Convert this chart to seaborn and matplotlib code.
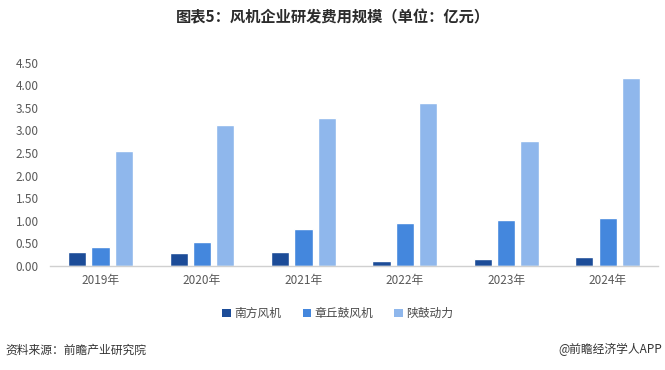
import matplotlib
matplotlib.use("Agg")
import matplotlib.pyplot as plt
import seaborn as sns
import pandas as pd
from matplotlib.patches import Patch

years = ["2019年", "2020年", "2021年", "2022年", "2023年", "2024年"]
series_names = ["南方风机", "章丘鼓风机", "陕鼓动力"]
nanfang = [0.31, 0.29, 0.31, 0.11, 0.15, 0.20]
zhangqiu = [0.42, 0.53, 0.82, 0.95, 1.02, 1.06]
shangu = [2.54, 3.12, 3.27, 3.61, 2.77, 4.16]
yticks = [0.0, 0.5, 1.0, 1.5, 2.0, 2.5, 3.0, 3.5, 4.0, 4.5]
colors = ["#1C4C98", "#4487DD", "#8FB7EC"]

rows = []
for name, vals in zip(series_names, [nanfang, zhangqiu, shangu]):
    for y, v in zip(years, vals):
        rows.append({"year": y, "company": name, "value": v})
df = pd.DataFrame(rows)

sns.set_theme(style="white")
plt.rcParams['font.family'] = ['Noto Sans CJK SC', 'DejaVu Sans']

fig = plt.figure(figsize=(6.65, 3.70), dpi=100)
ax = fig.add_axes([0.075, 0.281, 0.915, 0.550])

sns.barplot(data=df, x="year", y="value", hue="company", order=years,
            hue_order=series_names, palette=colors, width=0.69, gap=0.22,
            saturation=1, ax=ax, legend=False)

ax.set_ylim(0, 4.5)
ax.set_xlim(-0.5, 5.5)
ax.set_yticks(yticks)
ax.set_yticklabels([f"{t:.2f}" for t in yticks])
ax.set_xlabel("")
ax.set_ylabel("")
for s in ["top", "right", "left"]:
    ax.spines[s].set_visible(False)
ax.spines["bottom"].set_color("#D0D0D0")
ax.spines["bottom"].set_linewidth(1.0)
ax.tick_params(axis="y", length=0, labelsize=8.5, labelcolor="#595959", pad=8)
ax.tick_params(axis="x", length=0, labelsize=8.5, labelcolor="#595959", pad=6)

handles = [Patch(facecolor=c, edgecolor="none") for c in colors]
fig.legend(handles, series_names, loc="center", bbox_to_anchor=(0.508, 0.153),
           ncol=3, frameon=False, fontsize=8.5, handlelength=0.7,
           handleheight=0.7, handletextpad=0.3, columnspacing=1.8,
           labelcolor="#4a4a4a")

fig.text(0.5, 0.952, "图表5：风机企业研发费用规模（单位：亿元）", ha="center",
         va="center", fontsize=11, fontweight="bold", color="#2b2b2b")
fig.text(0.008, 0.055, "资料来源：前瞻产业研究院", ha="left", va="center",
         fontsize=8.5, color="#333333")
fig.text(0.995, 0.055, "@前瞻经济学人APP", ha="right", va="center",
         fontsize=8.5, color="#333333")

fig.savefig("out.png", dpi=100)
